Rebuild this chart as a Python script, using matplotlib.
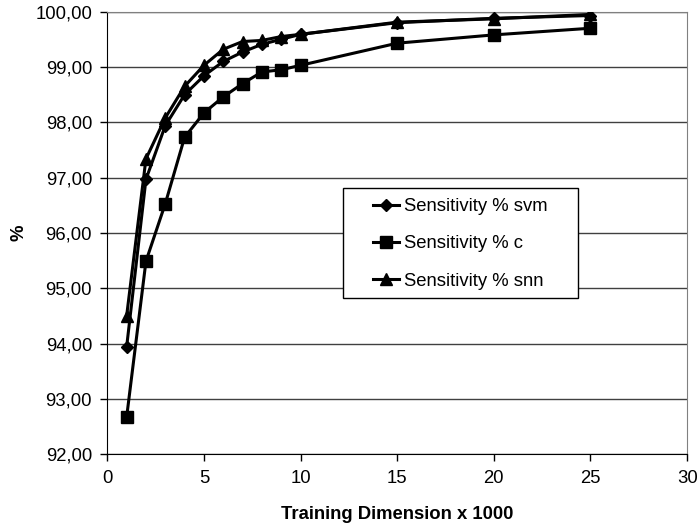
import matplotlib
matplotlib.use("Agg")
import matplotlib.pyplot as plt
from matplotlib.ticker import FuncFormatter, MultipleLocator
from matplotlib.patches import Rectangle

plt.rcParams['font.family'] = ['Liberation Sans', 'DejaVu Sans']

x = [1, 2, 3, 4, 5, 6, 7, 8, 9, 10, 15, 20, 25]
svm = [93.94, 96.97, 97.94, 98.50, 98.84, 99.10, 99.27, 99.41, 99.50, 99.59, 99.80, 99.88, 99.93]
c = [92.67, 95.49, 96.53, 97.73, 98.17, 98.46, 98.70, 98.91, 98.95, 99.03, 99.43, 99.58, 99.70]
snn = [94.50, 97.34, 98.08, 98.65, 99.03, 99.32, 99.46, 99.48, 99.55, 99.59, 99.81, 99.87, 99.95]
labels = ["Sensitivity % svm", "Sensitivity % c", "Sensitivity % snn"]

W, H = 699, 529
fig = plt.figure(figsize=(W / 100, H / 100), dpi=100)
ax = fig.add_axes([0.1535, 0.141, 0.8295, 0.837])

fs = 13.3
ax.plot(x, svm, color='black', lw=2.2, marker='D', ms=6.5, label=labels[0], zorder=3)
ax.plot(x, c, color='black', lw=2.2, marker='s', ms=8, label=labels[1], zorder=3)
ax.plot(x, snn, color='black', lw=2.2, marker='^', ms=8.5, label=labels[2], zorder=3)

ax.set_xlim(0, 30)
ax.set_ylim(92, 100)
ax.xaxis.set_major_locator(MultipleLocator(5))
ax.yaxis.set_major_locator(MultipleLocator(1))
ax.yaxis.set_major_formatter(FuncFormatter(lambda v, p: f"{v:.2f}".replace('.', ',')))
ax.grid(axis='y', color='#404040', lw=1.0)
ax.set_axisbelow(True)
for s in ['top', 'right']:
    ax.spines[s].set_color('#808080')
for s in ['left', 'bottom']:
    ax.spines[s].set_color('black')
ax.tick_params(direction='out', length=5, width=1, labelsize=fs, pad=6)

ax.set_xlabel("Training Dimension x 1000", fontsize=fs, fontweight='bold', labelpad=14)
ax.set_ylabel("%", fontsize=fs, fontweight='bold')
ax.yaxis.set_label_coords(-0.138, 0.5)

# legend box
fig.patches.append(Rectangle((343 / W, 1 - 298 / H), 235 / W, 110 / H,
                             transform=fig.transFigure, facecolor='white',
                             edgecolor='black', lw=1.0, zorder=5))
leg = fig.legend(loc='center left', bbox_to_anchor=(372.7 / W, 1 - 244 / H), fontsize=fs,
                 frameon=False, handlelength=1.45, handletextpad=0.22, labelspacing=1.1,
                 borderpad=0, borderaxespad=0)
leg.set_zorder(6)

fig.savefig("out.png", dpi=100)
